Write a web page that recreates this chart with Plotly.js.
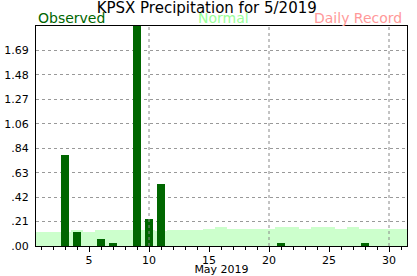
<!DOCTYPE html>
<html>
<head>
<meta charset="utf-8">
<script src="https://cdn.plot.ly/plotly-3.0.1.min.js"></script>
<style>html,body{margin:0;padding:0;background:#fff;}#chart{width:417px;height:276px;}</style>
</head>
<body>
<div id="chart"></div>
<script>
// Days of May 2019
const days = Array.from({length: 31}, (_, i) => i + 1);
// Observed daily precipitation (inches)
const observed = [0, 0, 0.79, 0.12, 0, 0.06, 0.03, 0, 1.90, 0.23,
                  0.54, 0, 0, 0, 0, 0, 0, 0, 0, 0,
                  0.03, 0, 0, 0, 0, 0, 0, 0.03, 0, 0, 0];
// Normal daily precipitation (inches)
const normal = [0.12, 0.12, 0.12, 0.14, 0.12, 0.14, 0.14, 0.14, 0.14, 0.14,
                0.13, 0.14, 0.14, 0.14, 0.15, 0.16, 0.15, 0.15, 0.15, 0.15,
                0.16, 0.16, 0.15, 0.16, 0.16, 0.15, 0.16, 0.15, 0.15, 0.15, 0.15];
// Axis ticks
const yTickVals = [0, 0.21125, 0.4225, 0.63375, 0.845, 1.05625, 1.2675, 1.47875, 1.69];
const yTickText = ['.00', '.21', '.42', '.63', '.84', '1.06', '1.27', '1.48', '1.69'];
const xTickVals = [5, 10, 15, 20, 25, 30];
const xGridDays = [10, 20, 30];

const FONT = 'DejaVu Sans, Verdana, sans-serif';

const traces = [
  {type: 'bar', x: days, y: normal, width: 1, marker: {color: '#ccffcc', line: {width: 0}},
   hoverinfo: 'skip', showlegend: false},
  {type: 'bar', x: days, y: observed, width: 0.67, marker: {color: '#006600', line: {width: 0}},
   showlegend: false}
];

const shapes = xGridDays.map(d => ({
  type: 'line', xref: 'x', yref: 'paper', x0: d, x1: d, y0: 0, y1: 1,
  line: {color: '#888888', width: 1, dash: 'dot'}, layer: 'above'
}));

const layout = {
  width: 417, height: 276,
  margin: {l: 36, r: 10, t: 26, b: 30, pad: 0},
  paper_bgcolor: '#ffffff', plot_bgcolor: '#ffffff',
  font: {family: FONT, size: 11, color: '#000000'},
  barmode: 'overlay', bargap: 0,
  title: {text: 'KPSX Precipitation for 5/2019', font: {family: FONT, size: 15, color: '#000000'},
          x: 0.4957, xanchor: 'center', xref: 'container', y: 1 - 7.5 / 276, yanchor: 'middle', yref: 'container', pad: {t: 0, b: 0}},
  xaxis: {
    range: [0.58, 31.5], tickmode: 'array', tickvals: xTickVals, ticktext: xTickVals.map(String),
    ticks: 'outside', ticklen: 5, tickcolor: '#000', tickwidth: 1,
    minor: {dtick: 1, tick0: 0, ticks: 'outside', ticklen: 3, tickcolor: '#000', showgrid: false},
    showgrid: false, zeroline: false, showline: true, linecolor: '#000', linewidth: 1, mirror: true,
    tickfont: {family: FONT, size: 11, color: '#000'}, ticklabelstandoff: -1,
    title: {text: 'May 2019', font: {family: FONT, size: 11, color: '#000'}, standoff: 0},
    fixedrange: true
  },
  yaxis: {
    range: [0, 1.90125], tickmode: 'array', tickvals: yTickVals, ticktext: yTickText,
    ticks: '', showgrid: true, gridcolor: '#999999', gridwidth: 1, griddash: '3px,3px',
    zeroline: false, showline: true, linecolor: '#000', linewidth: 1, mirror: true,
    tickfont: {family: FONT, size: 11, color: '#000'}, ticklabelstandoff: 4,
    fixedrange: true
  },
  shapes: shapes,
  annotations: [
    {text: 'Observed', xref: 'paper', yref: 'paper', x: 0, y: 1.035, xanchor: 'left', yanchor: 'middle',
     showarrow: false, font: {family: FONT, size: 14, color: '#006600'}},
    {text: 'Normal', xref: 'paper', yref: 'paper', x: (223.5 - 36) / 371, y: 1.035, xanchor: 'center', yanchor: 'middle',
     showarrow: false, font: {family: FONT, size: 14, color: '#99ff99'}},
    {text: 'Daily Record', xref: 'paper', yref: 'paper', x: (404 - 36) / 371, y: 1.035, xanchor: 'right', yanchor: 'middle',
     showarrow: false, font: {family: FONT, size: 14, color: '#ff9999'}}
  ]
};

Plotly.newPlot('chart', traces, layout, {displayModeBar: false, staticPlot: true});
</script>
</body>
</html>
